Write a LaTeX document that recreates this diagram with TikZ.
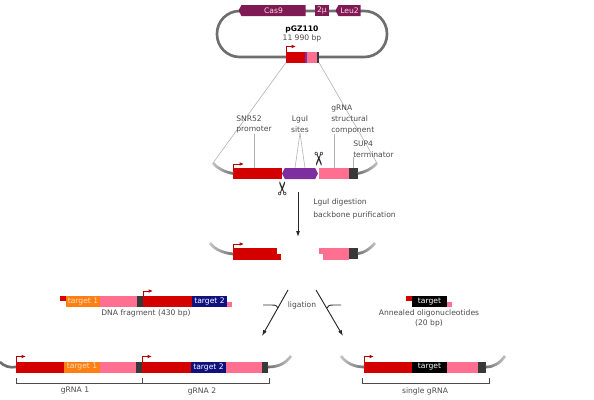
\documentclass[tikz,border=0pt]{standalone}
\usepackage{fontspec}
\setmainfont{DejaVu Sans}
\usetikzlibrary{arrows.meta,positioning,shapes.symbols,fadings}
\definecolor{cdsmaroon}{HTML}{7F1A55}
\definecolor{partred}{HTML}{D40000}
\definecolor{partpink}{HTML}{FF6F90}
\definecolor{partdark}{HTML}{383838}
\definecolor{partpurple}{HTML}{7D2FA0}
\definecolor{partorange}{HTML}{FF7F12}
\definecolor{partnavy}{HTML}{10107F}
\definecolor{labelgray}{HTML}{4A4A4A}
\definecolor{loopgray}{HTML}{6E6E6E}

\begin{document}
\begin{tikzpicture}[
  x=.75pt,y=-.75pt,
  node distance=0pt,
  w/.style={minimum width=#1*.75pt},
  h/.style={minimum height=#1*.75pt},
  part/.style={inner sep=0pt,outer sep=0pt,h=11,text=white,font=\fontsize{5.7}{7}\selectfont},
  red/.style={part,fill=partred},
  pink/.style={part,fill=partpink},
  dark/.style={part,fill=partdark},
  orangepart/.style={part,fill=partorange,text=orange!25},
  navypart/.style={part,fill=partnavy},
  blackpart/.style={part,fill=black},
  cds/.style={signal,signal pointer angle=125,inner sep=0pt,h=11,fill=cdsmaroon,text=pink!60,
    font=\fontsize{5.7}{7}\selectfont},
  lbl/.style={text=labelgray,inner sep=0pt,align=left,font=\fontsize{5.7}{7.9}\selectfont},
  clbl/.style={lbl,align=center},
  hookleft/.style={line width=2pt,draw=black!22,postaction={draw=loopgray,path fading=west}},
  hookright/.style={line width=2pt,draw=black!22,postaction={draw=loopgray,path fading=east}},
  tss/.style={draw=partred!85!black,line width=.6pt,-{Latex[length=3.2pt,width=2.6pt]}},
  leader/.style={draw=black!30,line width=.45pt},
  flow/.style={draw=black!85,line width=.7pt,-{Latex[length=4.5pt,width=3pt]}},
  side/.style={draw=black!80,line width=.7pt},
  bracket/.style={draw=black!70,line width=.6pt},
  snip/.style={inner sep=0pt,text=black!85,font=\fontsize{14}{14}\selectfont}
]
  \useasboundingbox (0,0) rectangle (594,400);

  % plasmid
  \node[draw=loopgray,line width=2pt,rounded corners=17pt,inner sep=0pt,
    minimum width=127.5pt,minimum height=34.5pt] (plasmid) at (302,34) {};
  \node[cds,signal to=west,w=67] (cas) at (273.5,10.5) {Cas9};
  \node[part,fill=cdsmaroon,text=pink!60,w=14] (twomu) at (322,10.5) {2µ};
  \node[cds,signal to=west,w=25] (leu) at (349.5,10.5) {Leu2};
  \node[lbl,text=black,font=\fontsize{5.7}{7}\selectfont\bfseries] (pgzname) at (302,29) {pGZ110};
  \node[lbl] (pgzsize) at (302,38) {11 990 bp};

  \node[red,w=19,anchor=west] (pgzred) at (286,57) {};
  \node[part,fill=partpurple,w=2,right=of pgzred] (pgzsite) {};
  \node[pink,w=10,right=of pgzsite] (pgzpink) {};
  \node[dark,w=2,right=of pgzpink] (pgzdark) {};
  \draw[tss] (pgzred.north west) -- ++(0,-5) -- ++(10,0);

  % cassette
  \node[red,w=49,anchor=west] (promoter) at (233,173.5) {};
  \node[signal,signal to=west and east,signal pointer angle=125,inner sep=0pt,outer sep=0pt,
    h=11,w=36,fill=partpurple] (lgusite) at (300,173.5) {};
  \node[pink,w=30,anchor=west] (scaffold) at (319,173.5) {};
  \node[dark,w=9,right=of scaffold] (term) {};

  \coordinate (hookl) at (213,163);
  \coordinate (hookr) at (377,163);
  \draw[hookleft] (hookl) .. controls (218,169) and (225,172) .. (promoter.west);
  \draw[hookright] (hookr) .. controls (372,169) and (365,172) .. (term.east);
  \draw[tss] (promoter.north west) -- ++(0,-4) -- ++(11,0);

  \draw[leader] (pgzred.south west) -- (hookl);
  \draw[leader] (pgzdark.south east) -- (hookr);

  \node[lbl] (snrlabel) at (254,124.5) {SNR52\\promoter};
  \node[clbl] (sitelabel) at (300,124.5) {LguI\\sites};
  \node[lbl,anchor=west] (grnalabel) at (331,119.5) {gRNA\\structural\\component};
  \node[lbl,anchor=west] (suplabel) at (353,149) {SUP4\\terminator};
  \draw[leader] (snrlabel.south) -- (snrlabel.south |- promoter.north);
  \draw[leader] (sitelabel.south) -- ([xshift=-3.75pt]lgusite.north);
  \draw[leader] (sitelabel.south) -- ([xshift=3.75pt]lgusite.north);
  \draw[leader] (scaffold.north) -- (scaffold.north |- grnalabel.south);
  \draw[leader] (term.north) -- (term.north |- suplabel.south);

  \node[snip,rotate=-90] (snipup) at (318,159) {✂};
  \node[snip,rotate=90] (snipdown) at (284,189) {✂};

  % digestion
  \coordinate (digesttop) at (298,192);
  \node[red,w=44,h=6,anchor=north west] (fragupper) at (233,248) {};
  \node[red,w=48,h=5.5,anchor=north west] (fraglower) at (fragupper.south west) {};
  \coordinate (digesttip) at (298,237);
  \draw[flow] (digesttop) -- (digesttip);
  \node[lbl,anchor=west] (digestlabel) at (313,202) {LguI digestion};
  \node[lbl,anchor=west] (purifylabel) at (313,215) {backbone purification};

  \node[pink,w=30,h=6,anchor=north west] (scafupper) at (319,248) {};
  \node[pink,w=26,h=5.5,anchor=north east] (scaflower) at (scafupper.south east) {};
  \node[dark,w=9,anchor=north west] (fragterm) at (scafupper.north east) {};
  \coordinate (fraghookl) at (210,243);
  \coordinate (fraghookr) at (375,243);
  \draw[hookleft] (fraghookl) .. controls (215,250) and (224,253) .. (fragupper.south west);
  \draw[hookright] (fraghookr) .. controls (370,249) and (364,253) .. (fragterm.east);
  \draw[tss] (fragupper.north west) -- ++(0,-4) -- ++(11,0);

  % ligation
  \node[clbl] (ligation) at (302,305) {ligation};
  \coordinate (ligltop) at (288,290);
  \coordinate (ligltip) at (262,336);
  \coordinate (ligrtop) at (316,290);
  \coordinate (ligrtip) at (343,336);
  \draw[flow] (ligltop) -- (ligltip);
  \draw[flow] (ligrtop) -- (ligrtip);
  \coordinate (siderl) at (263,305);
  \coordinate (siderr) at (341,305);
  \coordinate (joinl) at (278,308);
  \coordinate (joinr) at (327,308);
  \draw[side] (siderl) -- (272,305) .. controls (276,305) and (277,306) .. (joinl);
  \draw[side] (siderr) -- (333,305) .. controls (329,305) and (328,306) .. (joinr);

  % dna fragment
  \node[red,w=6,h=5,anchor=north west] (dnastub) at (60,296) {};
  \node[orangepart,w=34,anchor=north west] (dnatarget) at (66,296) {target 1};
  \node[pink,w=37,right=of dnatarget] (dnapink) {};
  \node[dark,w=6,right=of dnapink] (dnaterm) {};
  \node[red,w=49,right=of dnaterm] (dnared) {};
  \node[navypart,w=35,right=of dnared] (dnatargettwo) {target 2};
  \node[pink,w=5,h=5,anchor=south west] (dnatail) at (dnatargettwo.south east) {};
  \draw[tss] (dnared.north west) -- ++(0,-5) -- ++(10,0);
  \node[clbl] (dnalabel) at (146,313) {DNA fragment (430 bp)};

  % annealed oligos
  \node[red,w=6,h=5,anchor=north west] (oligostub) at (406,296) {};
  \node[blackpart,w=35,anchor=north west] (oligo) at (412,296) {target};
  \node[pink,w=5,h=5,anchor=south west] (oligotail) at (oligo.south east) {};
  \node[clbl] (oligolabel) at (429,318.5) {Annealed oligonucleotides\\(20 bp)};

  % two grna product
  \node[red,w=48,anchor=west] (onered) at (16,367) {};
  \node[orangepart,w=36,right=of onered] (onetarget) {target 1};
  \node[pink,w=36,right=of onetarget] (onepink) {};
  \node[dark,w=6,right=of onepink] (oneterm) {};
  \node[red,w=49,right=of oneterm] (twored) {};
  \node[navypart,w=35,right=of twored] (twotarget) {target 2};
  \node[pink,w=36,right=of twotarget] (twopink) {};
  \node[dark,w=6,right=of twopink] (twoterm) {};
  \coordinate (prodhookl) at (0,362);
  \coordinate (prodhookr) at (291,356);
  \draw[draw=loopgray,line width=2pt] (prodhookl) .. controls (4,366) and (9,368) .. (onered.west);
  \draw[hookright] (prodhookr) .. controls (286,363) and (279,367) .. (twoterm.east);
  \draw[tss] (onered.north west) -- ++(0,-5) -- ++(10,0);
  \draw[tss] (twored.north west) -- ++(0,-5) -- ++(10,0);

  \coordinate (twobrl) at (16,378);
  \coordinate (twobrm) at (142,378);
  \coordinate (twobrr) at (269,378);
  \draw[bracket] (twobrl) -- ++(0,5) -| (twobrr);
  \draw[bracket] (twobrm) -- ++(0,5);
  \node[clbl] (onelabel) at (75,391) {gRNA 1};
  \node[clbl] (twolabel) at (202,391) {gRNA 2};

  % single grna product
  \node[red,w=48,anchor=west] (singlered) at (364,367) {};
  \node[blackpart,w=35,right=of singlered] (singletarget) {target};
  \node[pink,w=31,right=of singletarget] (singlepink) {};
  \node[dark,w=8,right=of singlepink] (singleterm) {};
  \coordinate (singlehookl) at (341,356);
  \coordinate (singlehookr) at (505,356);
  \draw[hookleft] (singlehookl) .. controls (346,363) and (354,367) .. (singlered.west);
  \draw[hookright] (singlehookr) .. controls (500,363) and (494,367) .. (singleterm.east);
  \draw[tss] (singlered.north west) -- ++(0,-5) -- ++(10,0);

  \coordinate (singlebrl) at (362,378);
  \coordinate (singlebrr) at (489,378);
  \draw[bracket] (singlebrl) -- ++(0,5) -| (singlebrr);
  \node[clbl] (singlelabel) at (425,391) {single gRNA};
\end{tikzpicture}
\end{document}
